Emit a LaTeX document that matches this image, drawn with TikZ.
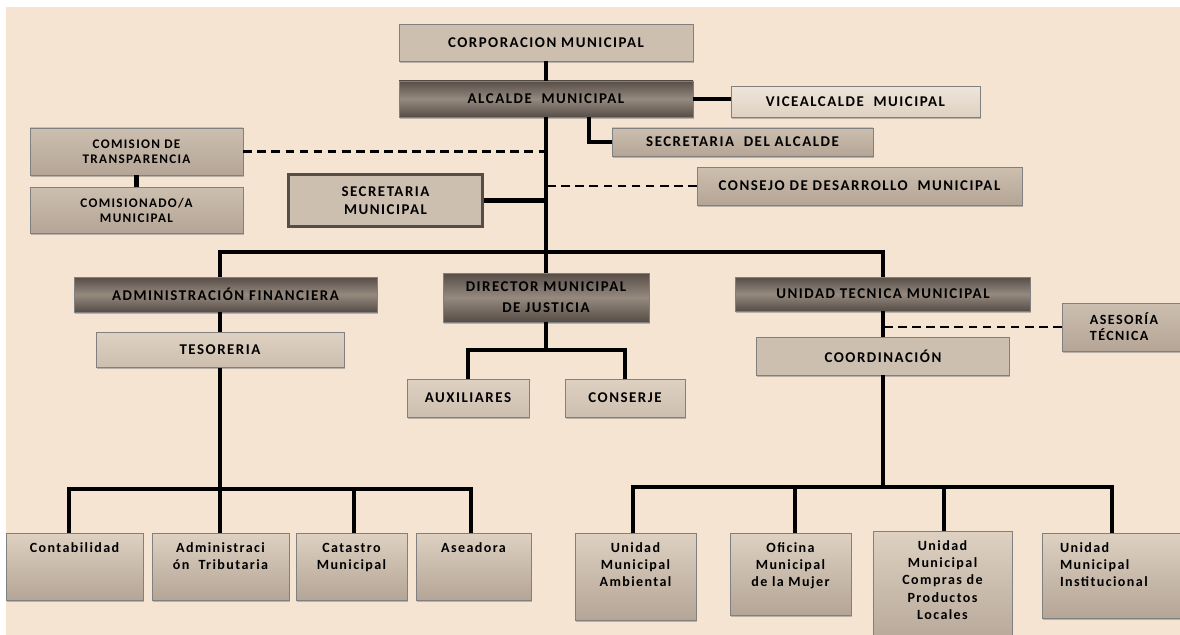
\documentclass[tikz,border=0pt]{standalone}
\usepackage{fontspec}
\setmainfont{Carlito}[LetterSpace=10]
\usetikzlibrary{shadows}
\definecolor{bgbeige}{RGB}{244,228,209}
\definecolor{boxpale}{RGB}{238,229,218}
\definecolor{boxlight}{RGB}{222,209,194}
\definecolor{boxmid}{RGB}{205,191,176}
\definecolor{boxtan}{RGB}{180,165,150}
\definecolor{boxdark}{RGB}{86,77,70}
\definecolor{boxgray}{RGB}{150,138,127}
\newcommand{\cell}[4][\centering]{\parbox[c][#3][t]{#2}{#1\rule{0pt}{0.38cm}#4}}

\begin{document}
\begin{tikzpicture}[x=0.02cm, y=-0.02cm]
    \tikzset{dims/.style 2 args={minimum width=#1*0.02cm, minimum height=#2*0.02cm}}
    \tikzstyle{unit}=[rectangle, draw=black!50, line width=0.4pt, align=center, inner sep=2pt,
        font=\bfseries\fontsize{8.5}{10}\selectfont,
        drop shadow={shadow xshift=0.5pt, shadow yshift=-0.9pt, opacity=0.5}]
    \tikzstyle{flatunit}=[unit, fill=boxmid]
    \tikzstyle{paleunit}=[unit, top color=boxpale, bottom color=boxlight]
    \tikzstyle{lightunit}=[unit, top color=boxlight, bottom color=boxmid]
    \tikzstyle{tanunit}=[unit, top color=boxmid, bottom color=boxtan]
    \tikzstyle{darkunit}=[unit, top color=boxdark, bottom color=boxdark, middle color=boxgray]
    \tikzstyle{cellunit}=[unit, inner sep=0pt, top color=boxlight, bottom color=boxtan,
        font=\bfseries\fontsize{8}{9.8}\selectfont]
    \tikzstyle{link}=[line width=2.3pt, draw=black]
    \tikzstyle{dashlink}=[line width=1.4pt, draw=black, dash pattern=on 5pt off 3pt]

    % Background
    \fill[white] (0,0) rectangle (1180,635);
    \fill[bgbeige] (6,7) rectangle (1180,635);
    \useasboundingbox (0,0) rectangle (1180,635);

    % Draw the top units
    \node[flatunit, dims={294}{37}] (corp) at (546,42.5) {CORPORACION MUNICIPAL};
    \node[darkunit, dims={294}{36}] (alc) at (546,99) {ALCALDE\ \ MUNICIPAL};
    \node[paleunit, dims={249}{31}] (vice) at (855.5,101.5) {VICEALCALDE\ \ MUICIPAL};
    \node[tanunit, dims={261}{28}] (secalc) at (742.5,142) {SECRETARIA\ \ DEL ALCALDE};
    \node[tanunit, dims={213}{47}, font=\bfseries\fontsize{7.5}{8.5}\selectfont] (comtr) at (136.5,151.5) {COMISION DE\\TRANSPARENCIA};
    \node[tanunit, dims={213}{46}, font=\bfseries\fontsize{7.5}{8.5}\selectfont] (comis) at (136.5,210) {COMISIONADO/A\\MUNICIPAL};
    \node[flatunit, dims={194}{52}, draw=boxdark, line width=2.2pt] (secmun) at (385.5,200.5) {SECRETARIA\\MUNICIPAL};
    \node[tanunit, dims={325}{38}] (consejo) at (859.5,186) {CONSEJO DE DESARROLLO\ \ MUNICIPAL};

    % Draw the middle units
    \node[darkunit, dims={303}{35}] (adfin) at (225.5,294.5) {ADMINISTRACIÓN FINANCIERA};
    \node[lightunit, dims={248}{35}] (teso) at (220,350) {TESORERIA};
    \node[darkunit, dims={206}{49}] (dirjus) at (546,297.5) {DIRECTOR MUNICIPAL\\[2pt]DE JUSTICIA};
    \node[lightunit, dims={122}{38}] (aux) at (468,398) {AUXILIARES};
    \node[lightunit, dims={120}{38}] (cons) at (625,398) {CONSERJE};
    \node[darkunit, dims={295}{34}] (utm) at (883,294) {UNIDAD TECNICA MUNICIPAL};
    \node[flatunit, dims={253}{38}] (coord) at (883,356) {COORDINACIÓN};
    \node[tanunit, dims={124}{48}, align=left, font=\bfseries\fontsize{8}{9}\selectfont] (ases) at (1124,327) {ASESORÍA\\TÉCNICA};

    % Draw the bottom units
    \foreach \name/\x/\w/\txt in {cont/74.5/2.74/Contabilidad, atrib/220.5/2.74/{Administraci\\ón\ \ Tributaria},
                                  cat/351.5/2.22/{Catastro\\Municipal}, asea/473.5/2.30/Aseadora}
        \node[cellunit, anchor=north] (\name) at (\x,533) {\cell{\w cm}{1.34cm}{\txt}};

    \foreach \name/\x/\y/\w/\h/\txt in {amb/635.5/533/2.42/1.74/{Unidad\\Municipal\\Ambiental},
                                        ofi/790.5/533/2.42/1.64/{Oficina\\Municipal\\de la Mujer},
                                        comp/942.5/531/2.78/2.40/{Unidad\\Municipal\\Compras de\\Productos\\Locales}}
        \node[cellunit, anchor=north] (\name) at (\x,\y) {\cell{\w cm}{\h cm}{\txt}};
    \node[cellunit, anchor=north] (inst) at (1116,533)
        {\cell[\raggedright\leftskip=0.36cm]{2.96cm}{1.70cm}{Unidad\\Municipal\\Institucional}};

    % Trunk and side links
    \coordinate (bus-C) at (546,252);
    \draw[link] (corp) -- (alc);
    \draw[link] (alc) -- (bus-C) -- (dirjus);
    \draw[link] (alc.east) -- (alc.east -| vice.west);
    \draw[link] ([xshift=0.86cm]alc.south) |- (secalc.west);
    \draw[dashlink] (comtr.east) -- (comtr.east -| alc.south);
    \draw[link] (comtr) -- (comis);
    \draw[link] (secmun.east) -- (secmun.east -| alc.south);
    \draw[dashlink] (consejo.west) -- (consejo.west -| alc.south);

    % Main bus
    \draw[link] (adfin.north -| teso) |- (bus-C) -| (utm);
    \draw[link] (adfin.south -| teso) -- (teso);

    % Justice branch
    \coordinate (jus-bus) at (546,350);
    \draw[link] (dirjus) -- (jus-bus);
    \draw[link] (aux) |- (jus-bus) -| (cons);

    % Finance branch
    \coordinate (BL) at (220,489);
    \draw[link] (teso) -- (BL);
    \foreach \name/\x in {cont/69, atrib/220, cat/354, asea/471}
        \coordinate (BL-\name) at (\x,489);
    \draw[link, line cap=rect] (BL-cont) -- (BL-asea);
    \foreach \name in {cont,atrib,cat,asea}
        \draw[link] (BL-\name) -- (BL-\name |- \name.north);

    % Technical branch
    \draw[link] (utm) -- (coord);
    \draw[dashlink] (ases.west) -- (ases.west -| utm.south);
    \coordinate (BR) at (883,487);
    \draw[link] (coord) -- (BR);
    \foreach \name/\x in {amb/633, ofi/795, comp/944, inst/1112}
        \coordinate (BR-\name) at (\x,487);
    \draw[link, line cap=rect] (BR-amb) -- (BR-inst);
    \foreach \name in {amb,ofi,comp,inst}
        \draw[link] (BR-\name) -- (BR-\name |- \name.north);
\end{tikzpicture}
\end{document}
